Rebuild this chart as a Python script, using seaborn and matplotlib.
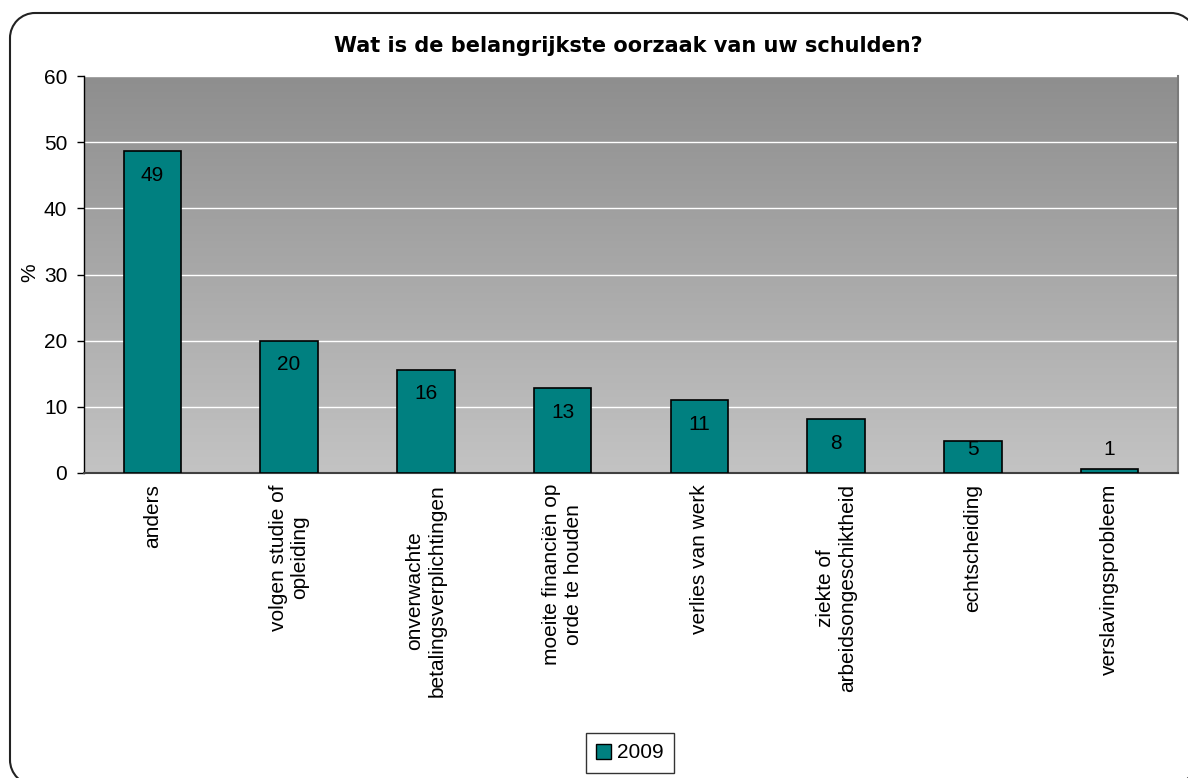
import numpy as np
import matplotlib
matplotlib.use("Agg")
import matplotlib.pyplot as plt
import seaborn as sns
from matplotlib.colors import LinearSegmentedColormap
from matplotlib.patches import Arc, Patch
from matplotlib.lines import Line2D
from matplotlib.transforms import IdentityTransform

# Survey results: main cause of debts (%)
categories = [
    "anders",
    "volgen studie of\nopleiding",
    "onverwachte\nbetalingsverplichtingen",
    "moeite financiën op\norde te houden",
    "verlies van werk",
    "ziekte of\narbeidsongeschiktheid",
    "echtscheiding",
    "verslavingsprobleem",
]
values = [48.6, 20.0, 15.6, 12.8, 11.0, 8.1, 4.9, 0.6]
series_name = "2009"
title = "Wat is de belangrijkste oorzaak van uw schulden?"
y_label = "%"
y_ticks = [0, 10, 20, 30, 40, 50, 60]

BAR_COLOR = "#008080"
W, H = 1188, 778

sns.set_style("white")
plt.rcParams["font.family"] = ["Liberation Sans", "DejaVu Sans"]
plt.rcParams["text.color"] = "black"
plt.rcParams["xtick.color"] = "black"
plt.rcParams["ytick.color"] = "black"
plt.rcParams["axes.labelcolor"] = "black"
FS = 15

fig = plt.figure(figsize=(W / 100, H / 100), dpi=100)
fig.patch.set_facecolor("white")

# plot area in pixel terms
left, right, top, bottom = 84, 1178, 76, 473
ax = fig.add_axes([left / W, 1 - bottom / H, (right - left) / W, (bottom - top) / H])

# vertical grey gradient behind the bars
bg = LinearSegmentedColormap.from_list("bg", ["#8e8e8e", "#c3c3c3"])
ax.imshow(np.linspace(0, 1, 256).reshape(-1, 1), cmap=bg, origin="upper",
          extent=[0, 1, 0, 1], transform=ax.transAxes, aspect="auto", zorder=0)

sns.barplot(x=categories, y=values, color=BAR_COLOR, saturation=1,
            edgecolor="black", linewidth=1.2, width=0.42, ax=ax, zorder=3)

ax.set_xlim(-0.5, len(categories) - 0.5)
ax.set_ylim(y_ticks[0], y_ticks[-1])
ax.set_yticks(y_ticks)
ax.set_axisbelow(True)
ax.yaxis.grid(True, color="white", linewidth=1)
ax.xaxis.grid(False)

# value labels inside the top of each bar
for i, v in enumerate(values):
    yc = max(v - 3.6, 3.6)
    ax.text(i, yc, f"{v:.0f}", ha="center", va="center", fontsize=FS,
            color="black", zorder=4)

ax.set_xticks(range(len(categories)))
ax.set_xticklabels(categories, rotation=90, va="top", ha="center",
                   multialignment="center", fontsize=FS, color="black")
ax.set_xticks(np.arange(-0.5, len(categories)), minor=True)
ax.tick_params(axis="x", which="major", length=0, pad=8)
ax.tick_params(axis="x", which="minor", length=6, width=1, color="#404040",
               direction="out")
ax.tick_params(axis="y", which="major", length=5, width=1, color="black",
               direction="out", labelsize=FS, pad=7, left=True,
               labelcolor="black")
ax.set_xlabel("")
ax.set_ylabel("")

ax.spines["top"].set_visible(False)
ax.spines["left"].set_color("black")
ax.spines["left"].set_linewidth(1)
ax.spines["bottom"].set_color("#404040")
ax.spines["bottom"].set_linewidth(1.5)
ax.spines["right"].set_color("#7a7a7a")
ax.spines["right"].set_linewidth(1.5)

fig.text(628 / W, 1 - 46 / H, title, ha="center", va="center",
         fontsize=15, fontweight="bold", family=["DejaVu Sans"])
fig.text(30 / W, 1 - 273 / H, y_label, rotation=90, ha="center", va="center",
         fontsize=FS)

handle = Patch(facecolor=BAR_COLOR, edgecolor="black", linewidth=1)
leg = fig.legend([handle], [series_name], loc="center",
                 bbox_to_anchor=(630 / W, 1 - 753 / H), frameon=True,
                 fancybox=False, fontsize=FS, handlelength=0.7,
                 handleheight=0.7, handletextpad=0.3, borderpad=0.5,
                 borderaxespad=0)
leg.get_frame().set_edgecolor("black")
leg.get_frame().set_linewidth(1)

# rounded chart border (pixel coordinates, origin bottom-left)
ident = IdentityTransform()
r = 25
bx0, bx1, by0, by1 = 10, 1196, -7, H - 13
border_kw = dict(color="#222222", linewidth=1.5, transform=ident)
fig.add_artist(Line2D([bx0 + r, bx1 - r], [by1, by1], **border_kw))
fig.add_artist(Line2D([bx0, bx0], [by0 + r, by1 - r], **border_kw))
fig.add_artist(Line2D([bx0 + r, bx1 - r], [by0, by0], **border_kw))
fig.add_artist(Line2D([bx1, bx1], [by0 + r, by1 - r], **border_kw))
arc_kw = dict(edgecolor="#222222", linewidth=1.5, transform=ident)
fig.add_artist(Arc((bx0 + r, by1 - r), 2 * r, 2 * r, theta1=90, theta2=180, **arc_kw))
fig.add_artist(Arc((bx1 - r, by1 - r), 2 * r, 2 * r, theta1=0, theta2=90, **arc_kw))
fig.add_artist(Arc((bx0 + r, by0 + r), 2 * r, 2 * r, theta1=180, theta2=270, **arc_kw))
fig.add_artist(Arc((bx1 - r, by0 + r), 2 * r, 2 * r, theta1=270, theta2=360, **arc_kw))

fig.savefig("out.png", dpi=100)
